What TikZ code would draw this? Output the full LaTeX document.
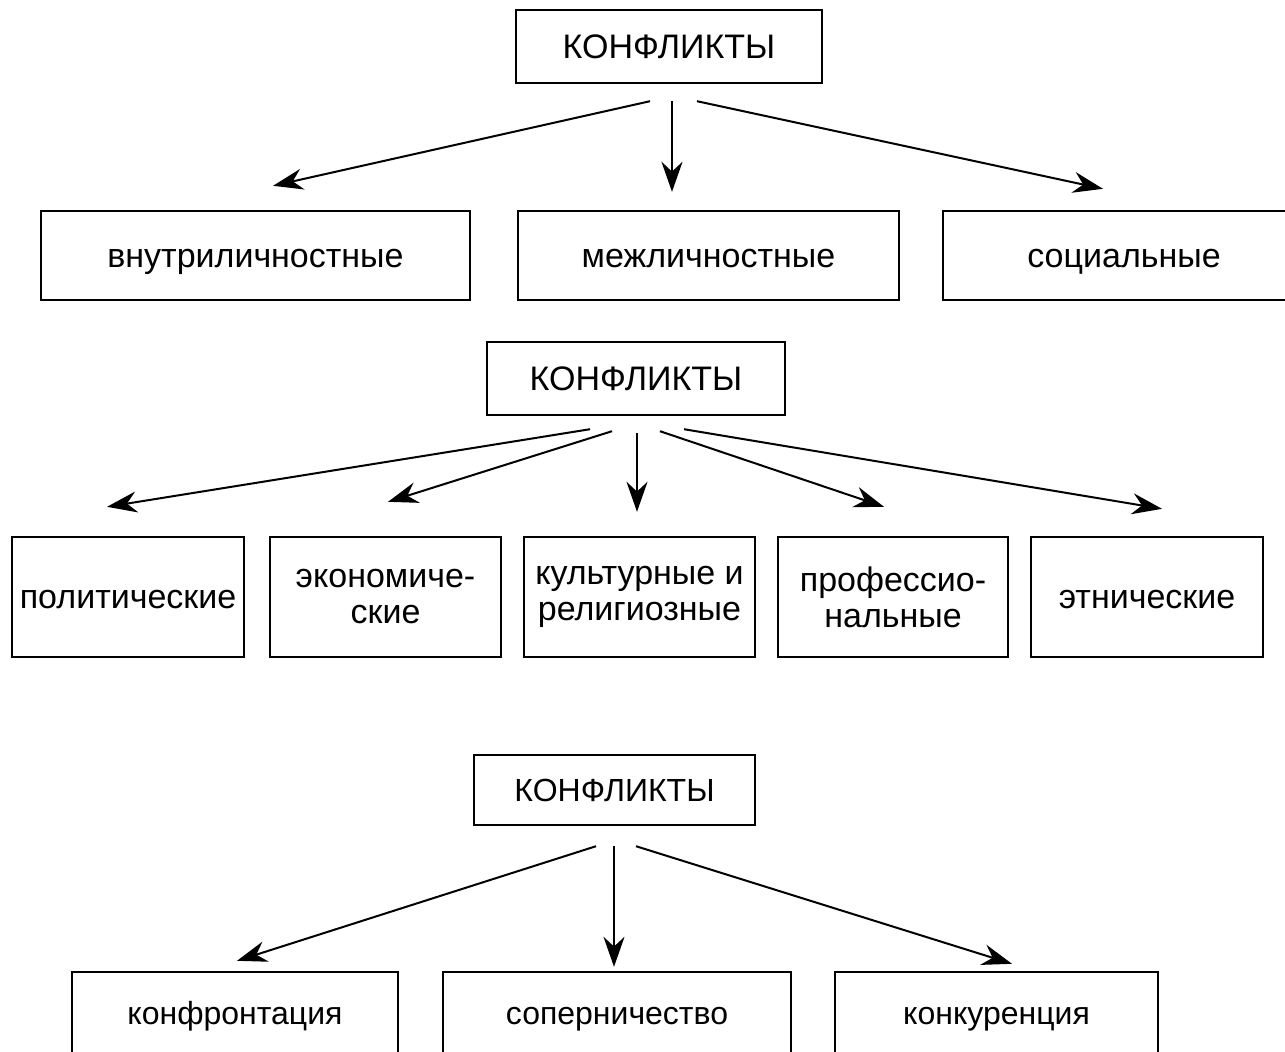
\documentclass[tikz,border=0pt]{standalone}
\usepackage{fontspec}
\setmainfont{Liberation Sans}
\usetikzlibrary{arrows.meta}

\tikzset{
  box/.style={shape=rectangle, draw=black, line width=1.2pt, inner xsep=2pt,
    align=center, font=\fontsize{17}{18}\selectfont},
  oneline/.style={box, text height=14pt, text depth=2.5pt},
  small/.style={font=\fontsize{16}{18}\selectfont},
}

\begin{document}
\begin{tikzpicture}[
            x = 0.5pt, y = -0.5pt, % pixel grid of the scan
            > = {Stealth[length=15pt,width=10.5pt]}, % arrow head style
            line width = 1pt % line style
        ]
\clip (0,0) rectangle (1285,1051);

% first scheme
\node[oneline, minimum width=153pt, minimum height=36.5pt] (K1) at (669,46.5) {КОНФЛИКТЫ};
\node[oneline, minimum width=214.5pt, minimum height=44.5pt] (V) at (255.5,255.5) {внутриличностные};
\node[oneline, minimum width=190.5pt, minimum height=44.5pt] (M) at (708.5,255.5) {межличностные};
\node[oneline, minimum width=181pt, minimum height=44.5pt] (S) at (1124,255.5) {социальные};

 \path [->] ([shift={(-19,17)}]K1.south) edge ([shift={(17.5,-24)}]V.north);
 \path [->] ([shift={(3,17)}]K1.south) edge ([shift={(-36.5,-18)}]M.north);
 \path [->] ([shift={(28,17)}]K1.south) edge ([shift={(-21,-21)}]S.north);

% second scheme
\node[oneline, minimum width=149pt, minimum height=36.5pt] (K2) at (636,378.5) {КОНФЛИКТЫ};
\node[oneline, minimum width=116pt, minimum height=60pt] (P) at (128,597) {политические};
\node[box, minimum width=115.5pt, minimum height=60pt] (E) at (385.5,597) {экономиче-\\ские};
\node[box, minimum width=115.5pt, minimum height=60pt] (C) at (639.5,597) {культурные и\\религиозные};
\node[box, minimum width=115pt, minimum height=60pt] (Pr) at (893,597) {профессио-\\нальные};
\node[oneline, minimum width=116pt, minimum height=60pt] (Et) at (1147,597) {этнические};

 \path [->] ([shift={(-46,13)}]K2.south) edge ([shift={(-21,-29)}]P.north);
 \path [->] ([shift={(-24,15)}]K2.south) edge ([shift={(2.5,-34)}]E.north);
 \path [->] ([shift={(1,17)}]K2.south) edge ([shift={(-2.5,-24)}]C.north);
 \path [->] ([shift={(24,15)}]K2.south) edge ([shift={(-9,-29)}]Pr.north);
 \path [->] ([shift={(48,13)}]K2.south) edge ([shift={(15,-27)}]Et.north);

% third scheme
\node[oneline, small, minimum width=140.5pt, minimum height=35pt] (K3) at (614.5,790) {КОНФЛИКТЫ};
\node[oneline, small, minimum width=163pt, minimum height=41pt] (Kf) at (235,1013) {конфронтация};
\node[oneline, small, minimum width=174pt, minimum height=41pt] (Sp) at (617,1013) {соперничество};
\node[oneline, small, minimum width=161.5pt, minimum height=41pt] (Kk) at (996.5,1013) {конкуренция};

 \path [->] ([shift={(-18.5,20)}]K3.south) edge ([shift={(2,-10)}]Kf.north);
 \path [->] ([shift={(-0.5,20)}]K3.south) edge ([shift={(-3,-4)}]Sp.north);
 \path [->] ([shift={(21.5,20)}]K3.south) edge ([shift={(15.5,-7)}]Kk.north);
\end{tikzpicture}
\end{document}
